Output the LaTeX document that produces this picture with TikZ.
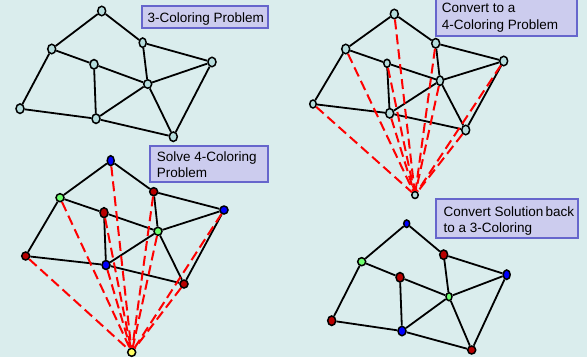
\documentclass[tikz,border=0pt]{standalone}
\usepackage{fontspec}
\setmainfont{Liberation Sans}
\usetikzlibrary{shapes.geometric}
\definecolor{bgc}{RGB}{218,237,237}
\definecolor{vfill}{RGB}{182,221,221}
\definecolor{boxfill}{RGB}{204,204,238}
\definecolor{boxline}{RGB}{102,102,204}
\definecolor{cred}{RGB}{185,0,0}
\definecolor{cblue}{RGB}{0,0,255}
\definecolor{cgreen}{RGB}{110,255,110}
\definecolor{cyel}{RGB}{255,255,100}
\begin{document}
\begin{tikzpicture}[x=1pt,y=-1pt,
  v/.style={ellipse, draw=black, line width=1.5pt, inner sep=0pt,
            minimum width=8pt, minimum height=9.5pt, fill=vfill},
  vs/.style={v, minimum width=6.5pt, minimum height=8pt},
  edge/.style={draw=black, line width=1.8pt},
  dsh/.style={draw=red, line width=2pt, dash pattern=on 10pt off 5pt},
  boxst/.style={draw=boxline, fill=boxfill, line width=1.8pt},
  lbl/.style={anchor=base west, inner sep=0pt, font=\fontsize{13.5}{16}\selectfont}]
\fill[bgc] (0,0) rectangle (587,357);
\useasboundingbox (0,0) rectangle (587,357);

% ---------- label boxes ----------
\draw[boxst] (141.7,5.7) rectangle (268.3,28.3);
\node[lbl] (t1) at (147.5,22) {3-Coloring Problem};
\draw[boxst] (435.7,-5) rectangle (576.7,36);
\node[lbl] (t2a) at (441.7,12.5) {Convert to a};
\node[lbl] (t2b) at (441.7,29.5) {4-Coloring Problem};
\draw[boxst] (150,145.7) rectangle (268.3,182);
\node[lbl] (t3a) at (156.7,161.5) {Solve 4-Coloring};
\node[lbl] (t3b) at (156.7,177) {Problem};
\draw[boxst] (436,199.3) rectangle (578.3,237.7);
\node[lbl] (t4a) at (443.3,216.5) {Convert Solution\hspace{-1.5pt} back};
\node[lbl] (t4b) at (443.3,232) {to a 3-Coloring};

% ---------- graph 1 ----------
\node[v] (aA) at (101.7,11) {};
\node[v] (aB) at (51.7,49) {};
\node[v] (aC) at (94,64.3) {};
\node[v, minimum width=7pt] (aD) at (142.7,42.7) {};
\node[v] (aE) at (212,62) {};
\node[v, minimum height=8.5pt] (aF) at (147.7,84) {};
\node[v] (aG) at (20,108.7) {};
\node[v] (aH) at (96,118.7) {};
\node[v] (aI) at (173.3,136.7) {};

% ---------- graph 2 ----------
\node[v] (bA) at (394.3,14) {};
\node[v] (bB) at (345.7,49) {};
\node[vs] (bC) at (387,63.3) {};
\node[v] (bD) at (435.7,43.3) {};
\node[v] (bE) at (503.7,61) {};
\node[v, minimum width=7pt] (bF) at (440,80.7) {};
\node[vs] (bG) at (313,104) {};
\node[v] (bH) at (389.7,113.3) {};
\node[v] (bI) at (465.7,130) {};
\node[vs, minimum height=7pt] (bX) at (415,195) {};

% ---------- graph 3 ----------
\node[v, fill=cblue, minimum width=7pt, minimum height=10pt] (cA) at (110.7,160.7) {};
\node[v, fill=cgreen, minimum height=8pt] (cB) at (60,197.7) {};
\node[v, fill=cred, minimum height=10pt] (cC) at (104,212.7) {};
\node[v, fill=cred, minimum height=8pt] (cD) at (153.7,191.7) {};
\node[v, fill=cblue, minimum height=8pt] (cE) at (224,210) {};
\node[v, fill=cgreen, minimum height=8pt] (cF) at (158,231.3) {};
\node[v, fill=cred, minimum height=8pt] (cG) at (25.7,256) {};
\node[v, fill=cblue, minimum height=9pt] (cH) at (106,265) {};
\node[v, fill=cred, minimum height=8pt] (cI) at (184,284) {};
\node[v, fill=cyel, minimum height=8pt] (cX) at (131.7,352.3) {};

% ---------- graph 4 ----------
\node[v, fill=cblue, minimum width=6pt, minimum height=7.5pt] (dA) at (406.7,223.7) {};
\node[v, fill=cgreen, minimum height=8pt] (dB) at (361.7,261.7) {};
\node[v, fill=cred] (dC) at (400,277.3) {};
\node[v, fill=cred] (dD) at (443.7,254.7) {};
\node[v, fill=cblue, minimum width=7pt] (dE) at (506.7,274.7) {};
\node[v, fill=cgreen, minimum width=6pt, minimum height=8pt] (dF) at (449,296.7) {};
\node[v, fill=cred] (dG) at (331.7,320.7) {};
\node[v, fill=cblue] (dH) at (402,331) {};
\node[v, fill=cred, minimum height=8pt] (dI) at (471.7,350) {};

% ---------- edges ----------
\foreach \g in {a,b,c,d}{
  \foreach \u/\w in {A/B,A/D,B/C,B/G,C/F,C/H,D/E,D/F,E/F,E/I,F/H,F/I,G/H,H/I}{
    \draw[edge] (\g\u) -- (\g\w);
  }
}
% ---------- dashed connections to the extra vertex ----------
\foreach \g in {b,c}{
  \foreach \u in {A,B,C,D,E,F,G,H,I}{
    \draw[dsh] (\g\u) -- (\g X);
  }
}
\end{tikzpicture}
\end{document}
